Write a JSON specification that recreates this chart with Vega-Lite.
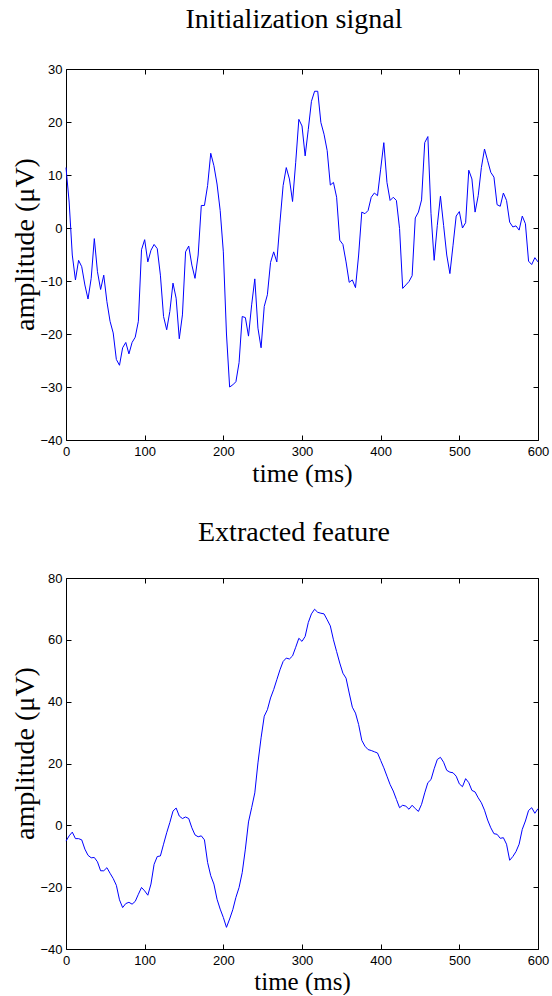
{
  "$schema": "https://vega.github.io/schema/vega-lite/v6.json",
  "padding": {"left": 11, "top": 5, "right": 3, "bottom": 0},
  "background": "white",
  "spacing": 31,
  "config": {
    "view": {"stroke": "black", "strokeWidth": 1},
    "axis": {
      "grid": false,
      "domain": false,
      "offset": -5,
      "tickColor": "black",
      "tickSize": 5,
      "tickWidth": 1,
      "labelFont": "Liberation Sans",
      "labelFontSize": 13,
      "labelColor": "black",
      "labelFlush": false,
      "titleFont": "Liberation Serif",
      "titleFontSize": 28,
      "titleFontWeight": "normal",
      "titleColor": "black"
    },
    "title": {"font": "Liberation Serif", "fontSize": 28, "fontWeight": "normal", "color": "black", "baseline": "alphabetic", "dx": -8}
  },
  "datasets": {
    "sig": [
      {"t":0,"v":11.4},{"t":4,"v":4.9},{"t":8,"v":-5.1},{"t":12,"v":-9.8},{"t":16,"v":-6.1},{"t":20,"v":-7.3},{"t":24,"v":-10.75},{"t":28,"v":-13.4},{"t":32,"v":-9.5},{"t":36,"v":-2},{"t":40,"v":-8.25},{"t":44,"v":-11.6},{"t":48,"v":-8.9},{"t":52,"v":-13.9},{"t":56,"v":-17.6},{"t":60,"v":-19.8},{"t":64,"v":-24.8},{"t":68,"v":-25.9},{"t":72,"v":-22.6},{"t":76,"v":-21.6},{"t":80,"v":-23.75},{"t":84,"v":-21.6},{"t":88,"v":-20.6},{"t":92,"v":-17.6},{"t":96,"v":-4.1},{"t":100,"v":-2.2},{"t":104,"v":-6.4},{"t":108,"v":-4.2},{"t":112,"v":-3.1},{"t":116,"v":-3.9},{"t":120,"v":-8.9},{"t":124,"v":-16.7},{"t":128,"v":-19.2},{"t":132,"v":-15.75},{"t":136,"v":-10.4},{"t":140,"v":-13.25},{"t":144,"v":-20.9},{"t":148,"v":-16.4},{"t":152,"v":-4.5},{"t":156,"v":-3.4},{"t":160,"v":-7},{"t":164,"v":-9.5},{"t":168,"v":-5.1},{"t":172,"v":4.25},{"t":176,"v":4.25},{"t":180,"v":8},{"t":184,"v":14.1},{"t":188,"v":11.75},{"t":192,"v":8.3},{"t":196,"v":3.3},{"t":200,"v":-4.5},{"t":204,"v":-20},{"t":208,"v":-30},{"t":212,"v":-29.6},{"t":216,"v":-29},{"t":220,"v":-25.4},{"t":224,"v":-16.7},{"t":228,"v":-16.9},{"t":232,"v":-20.4},{"t":236,"v":-14.5},{"t":240,"v":-9.6},{"t":244,"v":-18.9},{"t":248,"v":-22.6},{"t":252,"v":-14.8},{"t":256,"v":-12.6},{"t":260,"v":-6.5},{"t":264,"v":-4.5},{"t":268,"v":-6.4},{"t":272,"v":1.1},{"t":276,"v":8},{"t":280,"v":11.4},{"t":284,"v":9.25},{"t":288,"v":5},{"t":292,"v":12.4},{"t":296,"v":20.5},{"t":300,"v":19.25},{"t":304,"v":13.6},{"t":308,"v":18.6},{"t":312,"v":23.9},{"t":316,"v":25.8},{"t":320,"v":25.8},{"t":324,"v":19.9},{"t":328,"v":17.7},{"t":332,"v":14.6},{"t":336,"v":8.1},{"t":340,"v":8.6},{"t":344,"v":5.8},{"t":348,"v":-2.3},{"t":352,"v":-3.1},{"t":356,"v":-6.4},{"t":360,"v":-10.25},{"t":364,"v":-9.8},{"t":368,"v":-11.25},{"t":372,"v":-5.1},{"t":376,"v":3},{"t":380,"v":2.7},{"t":384,"v":3.3},{"t":388,"v":5.8},{"t":392,"v":6.6},{"t":396,"v":6.1},{"t":400,"v":11.1},{"t":404,"v":16.1},{"t":408,"v":8.6},{"t":412,"v":5.2},{"t":416,"v":5.8},{"t":420,"v":5.2},{"t":424,"v":-0.1},{"t":428,"v":-11.4},{"t":432,"v":-10.75},{"t":436,"v":-10.1},{"t":440,"v":-9},{"t":444,"v":1.9},{"t":448,"v":3},{"t":452,"v":5.3},{"t":456,"v":16.1},{"t":460,"v":17.25},{"t":464,"v":2.7},{"t":468,"v":-6.1},{"t":472,"v":0.5},{"t":476,"v":6},{"t":480,"v":0.5},{"t":484,"v":-5.1},{"t":488,"v":-8.6},{"t":492,"v":-3.25},{"t":496,"v":2.25},{"t":500,"v":3.1},{"t":504,"v":0},{"t":508,"v":1},{"t":512,"v":10.9},{"t":516,"v":9.25},{"t":520,"v":3},{"t":524,"v":6.1},{"t":528,"v":11.4},{"t":532,"v":14.9},{"t":536,"v":12.7},{"t":540,"v":10.5},{"t":544,"v":9.6},{"t":548,"v":4.4},{"t":552,"v":4.1},{"t":556,"v":6.6},{"t":560,"v":5.2},{"t":564,"v":1.1},{"t":568,"v":0.2},{"t":572,"v":0.4},{"t":576,"v":-0.4},{"t":580,"v":2.25},{"t":584,"v":0.8},{"t":588,"v":-6.25},{"t":592,"v":-6.9},{"t":596,"v":-5.6},{"t":600,"v":-6.4}
    ],
    "feat": [
      {"t":0,"v":-5.1},{"t":4,"v":-3.4},{"t":8,"v":-2.2},{"t":12,"v":-4.3},{"t":16,"v":-4.3},{"t":20,"v":-4.7},{"t":24,"v":-7.7},{"t":28,"v":-9.7},{"t":32,"v":-10.5},{"t":36,"v":-10.4},{"t":40,"v":-11.8},{"t":44,"v":-14.7},{"t":48,"v":-14.7},{"t":52,"v":-13.7},{"t":56,"v":-15.5},{"t":60,"v":-17.2},{"t":64,"v":-19.4},{"t":68,"v":-24.1},{"t":72,"v":-26.6},{"t":76,"v":-25.3},{"t":80,"v":-24.9},{"t":84,"v":-25.5},{"t":88,"v":-24.6},{"t":92,"v":-22.3},{"t":96,"v":-20.1},{"t":100,"v":-21.2},{"t":104,"v":-22.6},{"t":108,"v":-19},{"t":112,"v":-12.6},{"t":116,"v":-10.1},{"t":120,"v":-9.9},{"t":124,"v":-6.1},{"t":128,"v":-2.4},{"t":132,"v":0.9},{"t":136,"v":4.6},{"t":140,"v":5.6},{"t":144,"v":3},{"t":148,"v":2.2},{"t":152,"v":2.7},{"t":156,"v":2.2},{"t":160,"v":-0.8},{"t":164,"v":-3.1},{"t":168,"v":-3.7},{"t":172,"v":-3.4},{"t":176,"v":-4.7},{"t":180,"v":-12},{"t":184,"v":-16.3},{"t":188,"v":-19},{"t":192,"v":-23.9},{"t":196,"v":-27.1},{"t":200,"v":-29.8},{"t":204,"v":-33},{"t":208,"v":-30.3},{"t":212,"v":-27.3},{"t":216,"v":-23.3},{"t":220,"v":-20.1},{"t":224,"v":-15.3},{"t":228,"v":-7.7},{"t":232,"v":1.1},{"t":236,"v":5.7},{"t":240,"v":10.5},{"t":244,"v":20.2},{"t":248,"v":28.3},{"t":252,"v":35.3},{"t":256,"v":37.4},{"t":260,"v":41.2},{"t":264,"v":43.9},{"t":268,"v":47.1},{"t":272,"v":50.3},{"t":276,"v":53},{"t":280,"v":54.1},{"t":284,"v":53.8},{"t":288,"v":54.8},{"t":292,"v":57.6},{"t":296,"v":60.5},{"t":300,"v":59.5},{"t":304,"v":61.1},{"t":308,"v":65.6},{"t":312,"v":68.4},{"t":316,"v":69.9},{"t":320,"v":68.9},{"t":324,"v":68.6},{"t":328,"v":68.4},{"t":332,"v":66.5},{"t":336,"v":64.5},{"t":340,"v":60},{"t":344,"v":56.2},{"t":348,"v":52.5},{"t":352,"v":49.2},{"t":356,"v":47.6},{"t":360,"v":42.8},{"t":364,"v":38.2},{"t":368,"v":36.3},{"t":372,"v":32.6},{"t":376,"v":27.5},{"t":380,"v":25.6},{"t":384,"v":24.5},{"t":388,"v":24.2},{"t":392,"v":23.8},{"t":396,"v":23.4},{"t":400,"v":21},{"t":404,"v":18.6},{"t":408,"v":15.9},{"t":412,"v":13.2},{"t":416,"v":11.1},{"t":420,"v":8.4},{"t":424,"v":5.7},{"t":428,"v":6.5},{"t":432,"v":6.2},{"t":436,"v":5.2},{"t":440,"v":6.5},{"t":444,"v":5.4},{"t":448,"v":4.5},{"t":452,"v":6.8},{"t":456,"v":10.5},{"t":460,"v":13.8},{"t":464,"v":14.8},{"t":468,"v":18.3},{"t":472,"v":21.3},{"t":476,"v":22},{"t":480,"v":20.4},{"t":484,"v":17.8},{"t":488,"v":17.2},{"t":492,"v":17},{"t":496,"v":15.9},{"t":500,"v":13.4},{"t":504,"v":12.5},{"t":508,"v":15.1},{"t":512,"v":13.8},{"t":516,"v":11.3},{"t":520,"v":10.8},{"t":524,"v":8.9},{"t":528,"v":7.3},{"t":532,"v":4.9},{"t":536,"v":1.7},{"t":540,"v":-0.8},{"t":544,"v":-2.7},{"t":548,"v":-2.9},{"t":552,"v":-4.2},{"t":556,"v":-4},{"t":560,"v":-6.1},{"t":564,"v":-11.3},{"t":568,"v":-10.1},{"t":572,"v":-8.5},{"t":576,"v":-6.1},{"t":580,"v":-1.3},{"t":584,"v":1.4},{"t":588,"v":4.8},{"t":592,"v":5.7},{"t":596,"v":3.9},{"t":600,"v":5.4}
    ]
  },
  "vconcat": [
    {
      "width": 472,
      "height": 371,
      "title": {"text": "Initialization signal", "offset": 29},
      "data": {"name": "sig"},
      "layer": [
        {
          "mark": {"type": "line", "color": "#0000ff", "strokeWidth": 1},
          "encoding": {
            "x": {"field": "t", "type": "quantitative", "scale": {"domain": [0, 600], "nice": false},
                  "axis": {"orient": "bottom", "values": [0,100,200,300,400,500,600], "title": "time (ms)", "labelPadding": 5, "titlePadding": 2, "titleFontSize": 26, "format": "d"}},
            "y": {"field": "v", "type": "quantitative", "scale": {"domain": [-40, 30], "nice": false},
                  "axis": {"orient": "left", "values": [-40,-30,-20,-10,0,10,20,30], "title": "amplitude (μV)", "labelPadding": 4, "titlePadding": 0, "titleY": 175, "format": "d"}}
          }
        },
        {
          "mark": {"type": "line", "strokeOpacity": 0},
          "encoding": {
            "x": {"field": "t", "type": "quantitative", "axis": {"orient": "top", "values": [0,100,200,300,400,500,600], "labels": false, "title": null}},
            "y": {"field": "v", "type": "quantitative", "axis": {"orient": "right", "values": [-40,-30,-20,-10,0,10,20,30], "labels": false, "title": null}}
          }
        }
      ],
      "resolve": {"axis": {"x": "independent", "y": "independent"}}
    },
    {
      "width": 472,
      "height": 371,
      "title": {"text": "Extracted feature", "offset": 25},
      "data": {"name": "feat"},
      "layer": [
        {
          "mark": {"type": "line", "color": "#0000ff", "strokeWidth": 1},
          "encoding": {
            "x": {"field": "t", "type": "quantitative", "scale": {"domain": [0, 600], "nice": false},
                  "axis": {"orient": "bottom", "values": [0,100,200,300,400,500,600], "title": "time (ms)", "labelPadding": 5, "titlePadding": 2, "titleFontSize": 25, "format": "d"}},
            "y": {"field": "v", "type": "quantitative", "scale": {"domain": [-40, 80], "nice": false},
                  "axis": {"orient": "left", "values": [-40,-20,0,20,40,60,80], "title": "amplitude (μV)", "labelPadding": 4, "titlePadding": 0, "titleY": 175, "format": "d"}}
          }
        },
        {
          "mark": {"type": "line", "strokeOpacity": 0},
          "encoding": {
            "x": {"field": "t", "type": "quantitative", "axis": {"orient": "top", "values": [0,100,200,300,400,500,600], "labels": false, "title": null}},
            "y": {"field": "v", "type": "quantitative", "axis": {"orient": "right", "values": [-40,-20,0,20,40,60,80], "labels": false, "title": null}}
          }
        }
      ],
      "resolve": {"axis": {"x": "independent", "y": "independent"}}
    }
  ]
}
